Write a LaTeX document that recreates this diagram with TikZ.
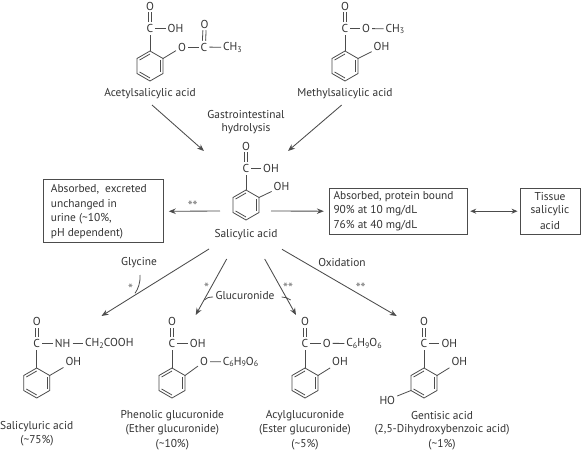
\documentclass[tikz,border=0pt]{standalone}
\usepackage{fontspec}
\setmainfont{PT Sans}
\usetikzlibrary{arrows.meta,calc}
\definecolor{ink}{gray}{0.2}
\definecolor{linec}{gray}{0.3}
\definecolor{starc}{gray}{0.55}
\newcommand{\sbs}[1]{\raisebox{-1.8pt}{\fontsize{8}{8}\selectfont #1}}
\tikzset{
  atom/.style={inner sep=1.9pt,text=ink,font=\fontsize{11.5}{12}\selectfont},
  lab/.style={inner sep=0pt,text=ink,font=\fontsize{11.4}{12}\selectfont,anchor=center},
  boxt/.style={inner sep=0pt,text=ink,font=\fontsize{11.4}{12}\selectfont,anchor=west},
  bond/.style={draw=linec,line width=0.8pt},
  bx/.style={draw=linec,line width=0.9pt},
  arr/.style={draw=linec,line width=0.85pt,-{Stealth[length=7pt,width=5.5pt]}},
  darr/.style={draw=linec,line width=0.85pt,{Stealth[length=6pt,width=5pt]}-{Stealth[length=6pt,width=5pt]}},
  starn/.style={inner sep=0pt,text=starc,font=\bfseries\fontsize{13}{13}\selectfont},
  curve/.style={draw=linec,line width=0.8pt}
}
% ring: name, cx, cy  (vertices: 1 top, 2 upper right, 3 lower right, 4 bottom, 5 lower left, 6 upper left)
\newcommand{\ringat}[3]{%
  \coordinate (#1) at (#2,#3);
  \coordinate (#1-1) at (#2,#3-15);
  \coordinate (#1-2) at (#2+13,#3-7.5);
  \coordinate (#1-3) at (#2+13,#3+7.5);
  \coordinate (#1-4) at (#2,#3+15);
  \coordinate (#1-5) at (#2-13,#3+7.5);
  \coordinate (#1-6) at (#2-13,#3-7.5);
  \draw[bond,line join=miter] (#1-1)--(#1-2)--(#1-3)--(#1-4)--(#1-5)--(#1-6)--cycle;
  \draw[bond] ($(#1)!0.8!(#1-2)$) -- ($(#1)!0.8!(#1-3)$);
  \draw[bond] ($(#1)!0.8!(#1-6)$) -- ($(#1)!0.8!(#1-1)$);
  \draw[bond] ($(#1)!0.8!(#1-5)$) -- ($(#1)!0.8!(#1-4)$);
}
\newcommand{\dbl}[2]{%
  \draw[bond] ([xshift=-1.6pt]#1.north) -- ([xshift=-1.6pt]#2.south);
  \draw[bond] ([xshift=1.6pt]#1.north) -- ([xshift=1.6pt]#2.south);
}
\begin{document}
\begin{tikzpicture}[x=1pt,y=-1pt]
\useasboundingbox (0,0) rectangle (582,452);
\fill[white] (0,0) rectangle (582,452);

% Acetylsalicylic acid
\ringat{ra}{150}{66}
\node[atom] (aC) at (150,28.5) {C};
\node[atom] (aO) at (150,6) {O};
\node[atom] (aOH) at (175.5,28.5) {OH};
\node[atom] (aOe) at (182,47) {O};
\node[atom] (aC2) at (204,47) {C};
\node[atom] (aO2) at (204.5,24) {O};
\node[atom] (aMe) at (232.5,47.5) {CH\sbs{3}};
\dbl{aC}{aO}\dbl{aC2}{aO2}
\draw[bond] (ra-1) -- (aC);
\draw[bond] (aC) -- (aOH);
\draw[bond] (ra-2) -- (aOe);
\draw[bond] (aOe) -- (aC2);
\draw[bond] (aC2) -- (aMe);
\node[lab] (aL) at (150,93.5) {Acetylsalicylic acid};

% Methylsalicylic acid
\ringat{rm}{345}{66}
\node[atom] (mC) at (345,28.5) {C};
\node[atom] (mO) at (345,6) {O};
\node[atom] (mOe) at (366,28.5) {O};
\node[atom] (mMe) at (395,29) {CH\sbs{3}};
\node[atom] (mOH) at (381.5,46.7) {OH};
\dbl{mC}{mO}
\draw[bond] (rm-1) -- (mC);
\draw[bond] (mC) -- (mOe);
\draw[bond] (mOe) -- (mMe);
\draw[bond] (rm-2) -- (mOH);
\node[lab] (mL) at (345,93.5) {Methylsalicylic acid};

% Salicylic acid
\node[lab] (gi) at (246,115) {Gastrointestinal};
\node[lab] (hy) at (246,129) {hydrolysis};
\ringat{rs}{246}{205}
\node[atom] (sC) at (246,168.5) {C};
\node[atom] (sO) at (246,146) {O};
\node[atom] (sOH) at (271,168.5) {OH};
\node[atom] (sOH2) at (281.5,186.7) {OH};
\dbl{sC}{sO}
\draw[bond] (rs-1) -- (sC);
\draw[bond] (sC) -- (sOH);
\draw[bond] (rs-2) -- (sOH2);
\node[lab] (sL) at (246,235) {Salicylic acid};

% Boxes
\node[bx,minimum width=120pt,minimum height=62.7pt,inner sep=0pt] (bl) at (103.3,211.3) {};
\node[boxt] (bl1) at (50.7,189.7) {Absorbed,\ \ excreted};
\node[boxt] (bl2) at (50.7,204.2) {unchanged in};
\node[boxt] (bl3) at (50.7,219) {urine (\textasciitilde10\%,};
\node[boxt] (bl4) at (50.7,233.5) {pH dependent)};
\node[bx,minimum width=138pt,minimum height=45.7pt,inner sep=0pt] (br) at (398.3,211.2) {};
\node[boxt] (br1) at (333.3,196.7) {Absorbed, protein bound};
\node[boxt] (br2) at (333.3,211) {90\% at 10 mg/dL};
\node[boxt] (br3) at (333.3,225.7) {76\% at 40 mg/dL};
\node[bx,minimum width=60pt,minimum height=45.7pt,inner sep=0pt] (bt) at (550,211.2) {};
\node[lab] (bt1) at (550,196.7) {Tissue};
\node[lab] (bt2) at (550,211) {salicylic};
\node[lab] (bt3) at (550,225.7) {acid};

% Salicyluric acid
\ringat{ru}{36.7}{383}
\node[atom] (uC) at (36.7,343.3) {C};
\node[atom] (uO) at (36.7,321.7) {O};
\node[atom] (uN) at (62.7,343.3) {NH};
\node[atom] (uG) at (109.3,343.3) {CH\sbs{2}COOH};
\node[atom] (uOH) at (73.3,361.7) {OH};
\dbl{uC}{uO}
\draw[bond] (ru-1) -- (uC);
\draw[bond] (uC) -- (uN);
\draw[bond] (uN) -- (uG);
\draw[bond] (ru-2) -- (uOH);
\node[lab] (uL) at (36.7,426.7) {Salicyluric acid};
\node[lab] (uP) at (37,441) {(\textasciitilde75\%)};

% Phenolic glucuronide
\ringat{rp}{172}{383}
\node[atom] (pC) at (172,343.3) {C};
\node[atom] (pO) at (172,321.7) {O};
\node[atom] (pOH) at (197.7,343.3) {OH};
\node[atom] (pOe) at (204,361.7) {O};
\node[atom] (pG) at (240.5,362) {C\sbs{6}H\sbs{9}O\sbs{6}};
\dbl{pC}{pO}
\draw[bond] (rp-1) -- (pC);
\draw[bond] (pC) -- (pOH);
\draw[bond] (rp-2) -- (pOe);
\draw[bond] (pOe) -- (pG);
\node[lab] (pL1) at (172.3,415.7) {Phenolic glucuronide};
\node[lab] (pL2) at (172.3,430) {(Ether glucuronide)};
\node[lab] (pL3) at (172.3,444.5) {(\textasciitilde10\%)};

% Acylglucuronide
\ringat{rc}{305}{383}
\node[atom] (cC) at (305,343.3) {C};
\node[atom] (cO) at (305,321.7) {O};
\node[atom] (cOe) at (326.7,343.3) {O};
\node[atom] (cG) at (364,343.6) {C\sbs{6}H\sbs{9}O\sbs{6}};
\node[atom] (cOH) at (340,361.7) {OH};
\dbl{cC}{cO}
\draw[bond] (rc-1) -- (cC);
\draw[bond] (cC) -- (cOe);
\draw[bond] (cOe) -- (cG);
\draw[bond] (rc-2) -- (cOH);
\node[lab] (cL1) at (305,415.7) {Acylglucuronide};
\node[lab] (cL2) at (305,430) {(Ester glucuronide)};
\node[lab] (cL3) at (305,444.5) {(\textasciitilde5\%)};

% Gentisic acid
\ringat{rg}{424}{383}
\node[atom] (gC) at (424,343.3) {C};
\node[atom] (gO) at (424,321.7) {O};
\node[atom] (gOH) at (449.3,343.3) {OH};
\node[atom] (gOH2) at (459.3,361.7) {OH};
\node[atom] (gHO) at (387.3,400) {HO};
\dbl{gC}{gO}
\draw[bond] (rg-1) -- (gC);
\draw[bond] (gC) -- (gOH);
\draw[bond] (rg-2) -- (gOH2);
\draw[bond] (rg-5) -- (gHO);
\node[lab] (gL1) at (442,415.7) {Gentisic acid};
\node[lab] (gL2) at (442,430) {(2,5-Dihydroxybenzoic acid)};
\node[lab] (gL3) at (442,444.5) {(\textasciitilde1\%)};

% connector ends
\coordinate (t1) at (204,151);
\coordinate (t2) at (288,151);
\coordinate (s1) at (152,105);
\coordinate (s2) at (341.7,105);
\coordinate (g0) at (209,249);
\coordinate (g1) at (101.5,316);
\coordinate (h0) at (226.7,259);
\coordinate (h1) at (195.7,315);
\coordinate (k0) at (264.7,259);
\coordinate (k1) at (296,315);
\coordinate (x0) at (282,249.3);
\coordinate (x1) at (396.7,316);
\coordinate (l0) at (220,211);
\coordinate (r0) at (271,211);

\draw[arr] (s1) -- (t1);
\draw[arr] (s2) -- (t2);
\draw[arr] (l0) -- ([xshift=5pt]bl.east);
\draw[arr] (r0) -- ([xshift=-5pt]br.west);
\draw[darr] ([xshift=2.5pt]br.east) -- ([xshift=-2pt]bt.west);
\draw[arr] (g0) -- (g1);
\draw[arr] (h0) -- (h1);
\draw[arr] (k0) -- (k1);
\draw[arr] (x0) -- (x1);

% reaction labels
\node[lab] (gly) at (139,263) {Glycine};
\node[lab] (glu) at (245,295.7) {Glucuronide};
\node[lab] (oxi) at (342,262.7) {Oxidation};
\coordinate (gc) at (135,293.3);
\coordinate (hc) at (204.3,300);
\coordinate (kc) at (290.7,300);
\coordinate (gc0) at (140,275);
\coordinate (hc0) at (213,297);
\coordinate (kc0) at (281.7,297);
\draw[curve] (gc0) .. controls (140.5,283) and (138,289) .. (gc);
\draw[curve] (hc0) .. controls (209,297) and (206,298) .. (hc);
\draw[curve] (kc0) .. controls (285,297) and (288,298) .. (kc);

% stars
\node[starn] (st1) at (192.7,206) {**};
\node[starn] (st2) at (130.7,288.5) {*};
\node[starn] (st3) at (206.7,288) {*};
\node[starn] (st4) at (288,288) {**};
\node[starn] (st5) at (360.7,288) {**};
\end{tikzpicture}
\end{document}
